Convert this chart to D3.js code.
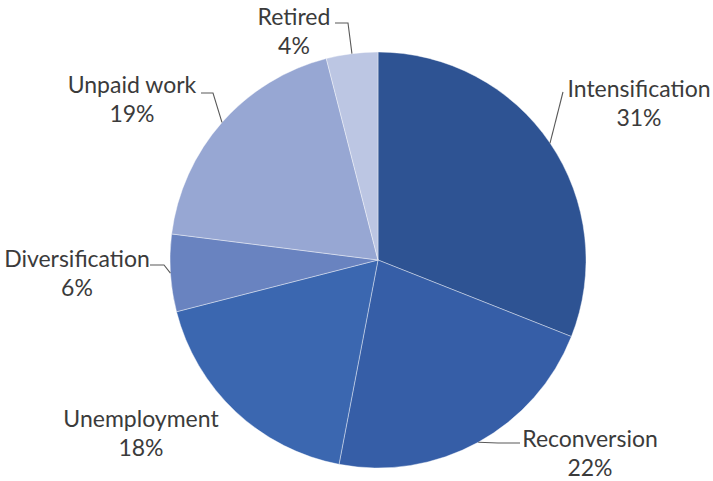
<!DOCTYPE html>
<html>
<head>
<meta charset="utf-8">
<script src="https://cdn.jsdelivr.net/npm/d3@7"></script>
<style>
  html, body { margin: 0; padding: 0; background: #fff; }
  svg { display: block; }
  text { font-family: Lato, "Open Sans", sans-serif; fill: #3b3b3b; }
</style>
</head>
<body>
<svg id="chart" width="713" height="481"></svg>
<script>
// Share of farm outcomes, clockwise from 12 o'clock
const categories = ["Intensification", "Reconversion", "Unemployment", "Diversification", "Unpaid work", "Retired"];
const shares = [31, 22, 18, 6, 19, 4];
const sliceColors = ["#2e5393", "#365ea7", "#3b67b0", "#6983c0", "#97a7d3", "#bcc6e3"];

// Label placement: name centre / baseline and leader elbow (null = no leader)
const labelLayout = {
  "Intensification": { x: 639, y: 97, leader: [[563, 92]] },
  "Reconversion":    { x: 590, y: 447, leader: [[520, 443], [498, 443]] },
  "Unemployment":    { x: 141, y: 427, leader: null },
  "Diversification": { x: 77,  y: 267, leader: [[150, 265], [164, 265]] },
  "Unpaid work":     { x: 132, y: 93,  leader: [[201, 93], [213, 93]] },
  "Retired":         { x: 294, y: 25,  leader: [[335, 23], [348, 23]] }
};

const svg = d3.select("#chart");
const cx = 378, cy = 260, radius = 208;
const fontSize = 23, lineGap = 29;

const data = categories.map((c, i) => ({ name: c, value: shares[i], color: sliceColors[i] }));

const pie = d3.pie().value(d => d.value).sort(null);
const arc = d3.arc().innerRadius(0).outerRadius(radius);
const arcs = pie(data);

const g = svg.append("g").attr("transform", `translate(${cx},${cy})`);

g.selectAll("path.slice")
  .data(arcs)
  .enter().append("path")
  .attr("class", "slice")
  .attr("d", arc)
  .attr("fill", d => d.data.color)
  .attr("stroke", "#ffffff")
  .attr("stroke-opacity", 0.5)
  .attr("stroke-width", 0.8);

// Leader lines from the slice's mid-angle on the rim to the label
arcs.forEach(a => {
  const lay = labelLayout[a.data.name];
  if (!lay.leader) return;
  const mid = (a.startAngle + a.endAngle) / 2;
  const edge = [cx + radius * Math.sin(mid), cy - radius * Math.cos(mid)];
  const pts = lay.leader.concat([edge]);
  svg.append("path")
    .attr("d", d3.line()(pts))
    .attr("fill", "none")
    .attr("stroke", "#595959")
    .attr("stroke-width", 1.1);
});

// Two-line labels: category name and percentage
arcs.forEach(a => {
  const lay = labelLayout[a.data.name];
  const t = svg.append("text")
    .attr("text-anchor", "middle")
    .attr("font-size", fontSize);
  t.append("tspan").attr("x", lay.x).attr("y", lay.y).text(a.data.name);
  t.append("tspan").attr("x", lay.x).attr("y", lay.y + lineGap).text(a.data.value + "%");
});
</script>
</body>
</html>
